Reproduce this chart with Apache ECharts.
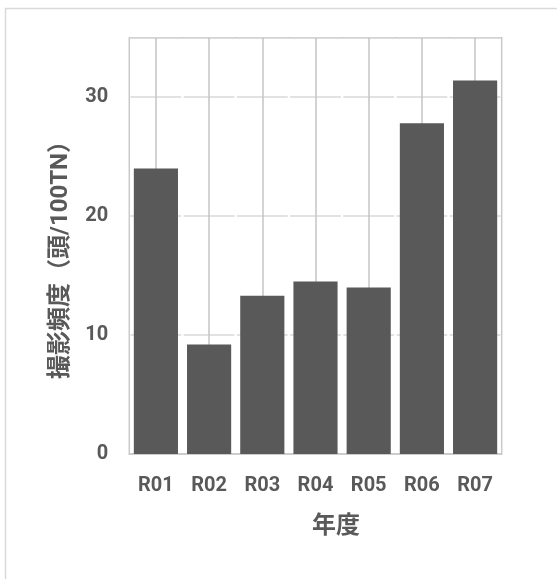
<!DOCTYPE html>
<html><head><meta charset="utf-8">
<script src="https://cdn.jsdelivr.net/npm/echarts@6/dist/echarts.min.js"></script>
<style>html,body{margin:0;padding:0;background:#fff}#c{width:557px;height:579px}</style>
</head><body><div id="c"></div>
<script>
const categories = ['R01','R02','R03','R04','R05','R06','R07'];
const values = [24.0, 9.2, 13.3, 14.5, 14.0, 27.8, 31.4];
const yTicks = [0, 10, 20, 30];
const yName = '撮影頻度（頭/100TN）';
const xName = '年度';

const FONT = "Roboto, 'Noto Sans CJK JP', sans-serif";
const chart = echarts.init(document.getElementById('c'), null, {renderer:'canvas'});
chart.setOption({
  animation: false,
  backgroundColor: '#fff',
  grid: {left: 129.3, right: 55.3, top: 37.7, bottom: 125, show: true, borderColor: '#c9c9c9', borderWidth: 1.5, backgroundColor: 'transparent'},
  graphic: [
    {type: 'rect', z: -10, shape: {x: 5.5, y: 8.5, width: 700, height: 700}, style: {fill: 'none', stroke: '#d9d9d9', lineWidth: 1.5}},
    {type: 'text', x: 61, y: 254, rotation: Math.PI/2, style: {text: yName, font: 'bold 24px ' + FONT, fill: '#595959', align: 'center', verticalAlign: 'middle'}},
    {type: 'text', x: 336, y: 527, style: {text: xName, font: 'bold 24px ' + FONT, fill: '#595959', align: 'center', verticalAlign: 'middle'}}
  ],
  xAxis: {
    type: 'category', data: categories,
    axisLine: {show: true, lineStyle: {color: '#c9c9c9', width: 1.5}},
    axisTick: {show: false},
    axisLabel: {color: '#595959', fontWeight: 'bold', fontSize: 20, fontFamily: FONT, margin: 22},
    splitLine: {show: false}
  },
  yAxis: {
    type: 'value', min: 0, max: 35, interval: 10,
    axisLine: {show: false}, axisTick: {show: false},
    axisLabel: {color: '#595959', fontWeight: 'bold', fontSize: 20, fontFamily: FONT, margin: 21,
      formatter: v => yTicks.includes(v) ? String(v) : ''},
    splitLine: {show: true, lineStyle: {color: '#d9d9d9', width: 1.5, type: [50.8, 2.4], dashOffset: 52}}
  },
  series: [
    {type: 'line', data: [], z: 1, silent: true,
      markLine: {silent: true, z: 1, symbol: 'none', label: {show: false},
        lineStyle: {color: '#c4c4c4', width: 1.5, type: 'solid'},
        data: categories.map(c => ({xAxis: c}))}},
    {type: 'bar', data: values, z: 3, barCategoryGap: '17%', itemStyle: {color: '#595959'}}
  ]
});
</script></body></html>
